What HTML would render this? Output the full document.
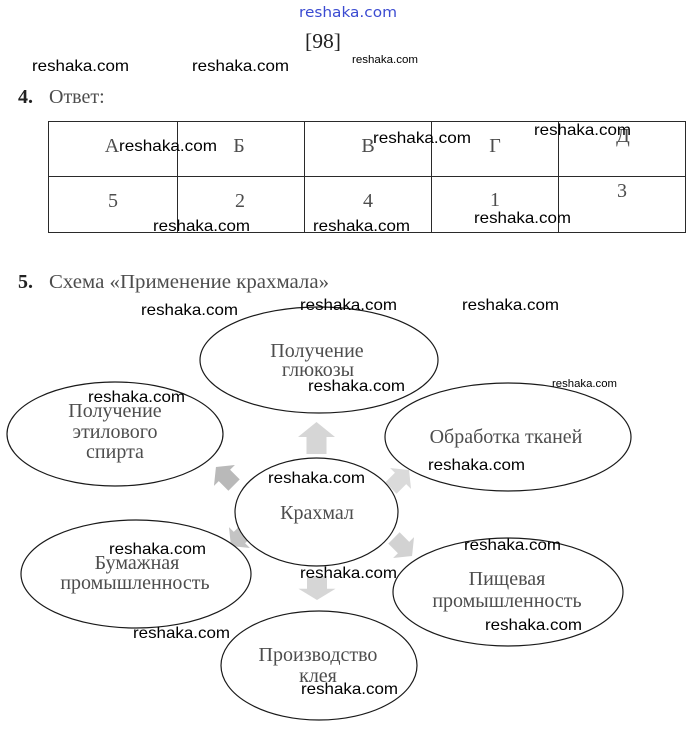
<!DOCTYPE html>
<html>
<head>
<meta charset="utf-8">
<style>
  html,body{margin:0;padding:0;background:#fff;}
  svg{display:block;}
  .wm{font-family:"Liberation Sans",Arial,sans-serif;font-size:16px;fill:#000;}
  .wms{font-family:"Liberation Sans",Arial,sans-serif;font-size:11px;fill:#000;}
  .t{font-family:"Liberation Serif","Noto Serif CJK SC",serif;font-size:20px;fill:#4d4d4d;}
  .n{font-family:"Liberation Serif",serif;font-size:20px;fill:#222;font-weight:bold;}
  .e{fill:#fff;stroke:#1a1a1a;stroke-width:1.2;}
</style>
</head>
<body>
<svg width="693" height="732" viewBox="0 0 693 732" xmlns="http://www.w3.org/2000/svg">
  <!-- header -->
  <text x="299" y="17" font-family="DejaVu Sans, sans-serif" font-size="14" fill="#3b4bd1" textLength="98" lengthAdjust="spacingAndGlyphs">reshaka.com</text>
  <text x="305" y="48" font-family="Liberation Serif, serif" font-size="21" fill="#222" textLength="36" lengthAdjust="spacingAndGlyphs">[98]</text>
  <text class="wm" x="32" y="71" textLength="97" lengthAdjust="spacingAndGlyphs">reshaka.com</text>
  <text class="wm" x="192" y="71" textLength="97" lengthAdjust="spacingAndGlyphs">reshaka.com</text>
  <text class="wms" x="352" y="63" textLength="66" lengthAdjust="spacingAndGlyphs">reshaka.com</text>

  <!-- 4. Ответ -->
  <text class="n" x="18" y="103">4.</text>
  <text class="t" x="49" y="103">Ответ:</text>

  <!-- table -->
  <g stroke="#2a2a2a" stroke-width="1" fill="none">
    <rect x="48.5" y="121.5" width="637" height="111"/>
    <line x1="48" y1="176.5" x2="686" y2="176.5"/>
    <line x1="177.5" y1="121" x2="177.5" y2="233"/>
    <line x1="304.5" y1="121" x2="304.5" y2="233"/>
    <line x1="431.5" y1="121" x2="431.5" y2="233"/>
    <line x1="558.5" y1="121" x2="558.5" y2="233"/>
  </g>
  <g class="t" text-anchor="middle">
    <text class="t" x="112" y="152">А</text>
    <text class="t" x="239" y="152">Б</text>
    <text class="t" x="368" y="152">В</text>
    <text class="t" x="495" y="152">Г</text>
    <text class="t" x="623" y="142">Д</text>
    <text class="t" x="113" y="207">5</text>
    <text class="t" x="240" y="207">2</text>
    <text class="t" x="368" y="207">4</text>
    <text class="t" x="495" y="206">1</text>
    <text class="t" x="622" y="197">3</text>
  </g>
  <text class="wm" x="119" y="151" textLength="98" lengthAdjust="spacingAndGlyphs">reshaka.com</text>
  <text class="wm" x="373" y="143" textLength="98" lengthAdjust="spacingAndGlyphs">reshaka.com</text>
  <text class="wm" x="534" y="135" textLength="97" lengthAdjust="spacingAndGlyphs">reshaka.com</text>
  <text class="wm" x="153" y="231" textLength="97" lengthAdjust="spacingAndGlyphs">reshaka.com</text>
  <text class="wm" x="313" y="231" textLength="97" lengthAdjust="spacingAndGlyphs">reshaka.com</text>
  <text class="wm" x="474" y="223" textLength="97" lengthAdjust="spacingAndGlyphs">reshaka.com</text>

  <!-- 5. title -->
  <text class="n" x="18" y="288">5.</text>
  <text class="t" x="49" y="288" textLength="280" lengthAdjust="spacingAndGlyphs">Схема «Применение крахмала»</text>

  <!-- arrows -->
  <defs>
    <path id="arr" d="M0,-16 L18.5,-1 L10,-1 L10,16 L-10,16 L-10,-1 L-18.5,-1 Z"/>
  </defs>
  <use href="#arr" transform="translate(316.5,438)" fill="#d6d6d6"/>
  <use href="#arr" transform="translate(317,588) rotate(180) scale(1,0.75)" fill="#d6d6d6"/>
  <use href="#arr" transform="translate(225,476) rotate(-45) scale(0.8)" fill="#b9b9b9"/>
  <use href="#arr" transform="translate(400,479) rotate(45) scale(0.8)" fill="#dadada"/>
  <use href="#arr" transform="translate(403,547) rotate(135) scale(0.8)" fill="#d2d2d2"/>
  <use href="#arr" transform="translate(240,537) rotate(-135) scale(0.8)" fill="#c4c4c4"/>

  <!-- ellipses -->
  <ellipse class="e" cx="319" cy="360" rx="119" ry="53"/>
  <ellipse class="e" cx="115" cy="434" rx="108" ry="52"/>
  <ellipse class="e" cx="508" cy="437" rx="123" ry="54"/>
  <ellipse class="e" cx="316.5" cy="512" rx="81.5" ry="54"/>
  <ellipse class="e" cx="136" cy="574" rx="115" ry="54"/>
  <ellipse class="e" cx="508" cy="592" rx="115" ry="54"/>
  <ellipse class="e" cx="319" cy="665.5" rx="98" ry="54.5"/>

  <!-- ellipse labels -->
  <g text-anchor="middle">
    <text class="t" x="317" y="357">Получение</text>
    <text class="t" x="318" y="376">глюкозы</text>
    <text class="t" x="115" y="417">Получение</text>
    <text class="t" x="115" y="438">этилового</text>
    <text class="t" x="115" y="458">спирта</text>
    <text class="t" x="506" y="443">Обработка тканей</text>
    <text class="t" x="317" y="519">Крахмал</text>
    <text class="t" x="137" y="569">Бумажная</text>
    <text class="t" x="135" y="589">промышленность</text>
    <text class="t" x="507" y="585">Пищевая</text>
    <text class="t" x="507" y="607">промышленность</text>
    <text class="t" x="318" y="661">Производство</text>
    <text class="t" x="318" y="682">клея</text>
  </g>

  <!-- diagram watermarks -->
  <text class="wm" x="141" y="315" textLength="97" lengthAdjust="spacingAndGlyphs">reshaka.com</text>
  <text class="wm" x="300" y="310" textLength="97" lengthAdjust="spacingAndGlyphs">reshaka.com</text>
  <text class="wm" x="462" y="310" textLength="97" lengthAdjust="spacingAndGlyphs">reshaka.com</text>
  <text class="wm" x="308" y="391" textLength="97" lengthAdjust="spacingAndGlyphs">reshaka.com</text>
  <text class="wms" x="552" y="387" textLength="65" lengthAdjust="spacingAndGlyphs">reshaka.com</text>
  <text class="wm" x="88" y="402" textLength="97" lengthAdjust="spacingAndGlyphs">reshaka.com</text>
  <text class="wm" x="428" y="470" textLength="97" lengthAdjust="spacingAndGlyphs">reshaka.com</text>
  <text class="wm" x="268" y="483" textLength="97" lengthAdjust="spacingAndGlyphs">reshaka.com</text>
  <text class="wm" x="109" y="554" textLength="97" lengthAdjust="spacingAndGlyphs">reshaka.com</text>
  <text class="wm" x="464" y="550" textLength="97" lengthAdjust="spacingAndGlyphs">reshaka.com</text>
  <text class="wm" x="300" y="578" textLength="97" lengthAdjust="spacingAndGlyphs">reshaka.com</text>
  <text class="wm" x="485" y="630" textLength="97" lengthAdjust="spacingAndGlyphs">reshaka.com</text>
  <text class="wm" x="133" y="638" textLength="97" lengthAdjust="spacingAndGlyphs">reshaka.com</text>
  <text class="wm" x="301" y="694" textLength="97" lengthAdjust="spacingAndGlyphs">reshaka.com</text>
</svg>
</body>
</html>
